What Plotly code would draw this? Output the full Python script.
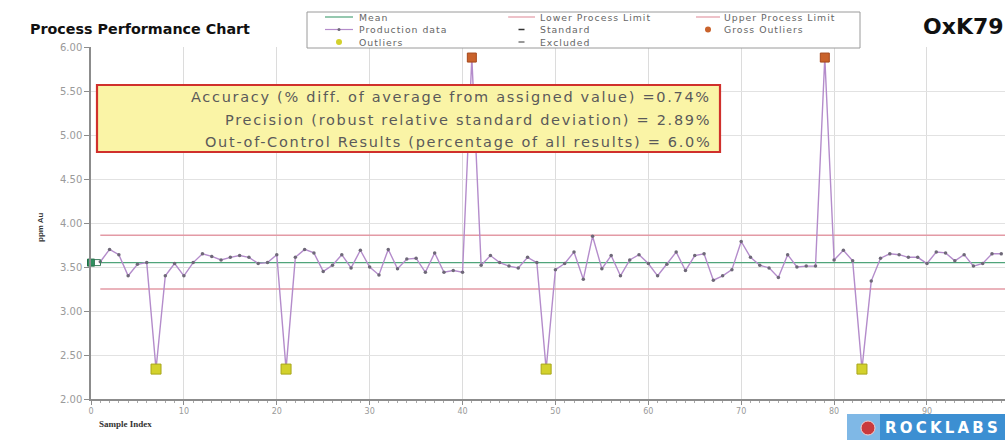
import plotly.graph_objects as go

# ---- data -------------------------------------------------------------
sample_index = list(range(1, 99))
production = [
    3.56, 3.70, 3.64, 3.40, 3.53, 3.55, 2.34, 3.40, 3.54, 3.40,
    3.55, 3.65, 3.62, 3.58, 3.61, 3.63, 3.61, 3.54, 3.55, 3.64,
    2.34, 3.61, 3.70, 3.66, 3.45, 3.52, 3.64, 3.49, 3.69, 3.50,
    3.41, 3.70, 3.48, 3.59, 3.60, 3.44, 3.66, 3.44, 3.46, 3.44,
    5.88, 3.52, 3.63, 3.55, 3.51, 3.49, 3.61, 3.55, 2.34, 3.47,
    3.54, 3.67, 3.36, 3.85, 3.48, 3.63, 3.40, 3.58, 3.64, 3.54,
    3.40, 3.53, 3.67, 3.46, 3.63, 3.65, 3.35, 3.40, 3.47, 3.79,
    3.61, 3.52, 3.49, 3.38, 3.64, 3.50, 3.51, 3.51, 5.88, 3.58,
    3.69, 3.57, 2.34, 3.34, 3.60, 3.65, 3.64, 3.61, 3.61, 3.54,
    3.67, 3.66, 3.57, 3.64, 3.51, 3.54, 3.65, 3.65,
]
outlier_idx = [7, 21, 49, 83]
gross_outlier_idx = [41, 79]
mean_value = 3.55
lower_limit = 3.25
upper_limit = 3.86
standard_value = 3.55
limit_span = [1, 100]

stats_lines = [
    "Accuracy (% diff. of average from assigned value) =0.74%",
    "Precision (robust relative standard deviation) = 2.89%",
    "Out-of-Control Results (percentage of all results) = 6.0%",
]

y_ticks = [2.0, 2.5, 3.0, 3.5, 4.0, 4.5, 5.0, 5.5, 6.0]
x_ticks = [0, 10, 20, 30, 40, 50, 60, 70, 80, 90]

# ---- page geometry (pixels) -------------------------------------------
FIG_W, FIG_H = 1005, 440
M_L, M_T, M_R, M_B = 91, 47, 0, 41
PW = FIG_W - M_L - M_R
PH = FIG_H - M_T - M_B


def px(x):
    return (x - M_L) / PW


def py(y):
    return (FIG_H - M_B - y) / PH


def spaced(text, spacing):
    return f'<span style="letter-spacing:{spacing}px">{text}</span>'


MEAN_C = "#4FA47A"
LIMIT_C = "#E39AA5"
PROD_C = "#B48CCB"
OUT_C = "#D3D12C"
GROSS_C = "#C9622B"
TEXT_C = "#5A5A5A"

fig = go.Figure()

fig.add_trace(go.Scatter(x=limit_span, y=[upper_limit] * 2, mode="lines",
                         line=dict(color=LIMIT_C, width=1.5), name="Upper Process Limit"))
fig.add_trace(go.Scatter(x=limit_span, y=[lower_limit] * 2, mode="lines",
                         line=dict(color=LIMIT_C, width=1.5), name="Lower Process Limit"))
fig.add_trace(go.Scatter(x=limit_span, y=[mean_value] * 2, mode="lines",
                         line=dict(color=MEAN_C, width=1.2), name="Mean"))

fig.add_trace(go.Scatter(
    x=sample_index, y=production, mode="lines+markers", name="Production data",
    line=dict(color=PROD_C, width=1.4),
    marker=dict(color="#6E6878", size=3.5),
))

fig.add_trace(go.Scatter(
    x=outlier_idx, y=[production[i - 1] for i in outlier_idx], mode="markers",
    name="Outliers",
    marker=dict(symbol="square", color=OUT_C, size=10,
                line=dict(color="#A8A61A", width=1)),
))
fig.add_trace(go.Scatter(
    x=gross_outlier_idx, y=[production[i - 1] for i in gross_outlier_idx],
    mode="markers", name="Gross Outliers",
    marker=dict(symbol="square", color=GROSS_C, size=9,
                line=dict(color="#A5481C", width=1)),
))

fig.add_trace(go.Scatter(
    x=[0], y=[standard_value], mode="markers", name="Standard",
    marker=dict(symbol="square", color="#2F8F5F", size=7,
                line=dict(color="#1E6B44", width=1)),
    cliponaxis=False,
))
fig.add_trace(go.Scatter(
    x=[0.7], y=[standard_value], mode="markers", showlegend=False,
    marker=dict(symbol="square-open", color="#3E7E5E", size=6,
                line=dict(width=1)),
    cliponaxis=False,
))

shapes = []
annotations = []

# statistics box
shapes.append(dict(type="rect", xref="paper", yref="paper",
                   x0=px(97), x1=px(720), y0=py(152), y1=py(85),
                   fillcolor="#FAF4A6", line=dict(color="#D0302C", width=2.2),
                   layer="above"))
for text, ypix in zip(stats_lines, [97, 120, 142]):
    annotations.append(dict(text=spaced(text, 1.7), xref="paper", yref="paper",
                            x=px(713), y=py(ypix), xanchor="right", yanchor="middle",
                            showarrow=False,
                            font=dict(family="DejaVu Sans", size=14.5, color=TEXT_C)))

# legend box
shapes.append(dict(type="rect", xref="paper", yref="paper",
                   x0=px(307), x1=px(860), y0=py(48), y1=py(12),
                   fillcolor="white", line=dict(color="#9A9A9A", width=1)))

legend_rows = [17, 29.5, 42]
legend_items = [
    # column 1
    ("line", MEAN_C, 325, 353, 357, legend_rows[0], "Mean"),
    ("linedot", PROD_C, 325, 353, 357, legend_rows[1], "Production data"),
    ("dot", OUT_C, 325, 353, 357, legend_rows[2], "Outliers"),
    # column 2
    ("line", LIMIT_C, 508, 535, 538, legend_rows[0], "Lower Process Limit"),
    ("dash", "#333333", 508, 535, 538, legend_rows[1], "Standard"),
    ("dash", "#777777", 508, 535, 538, legend_rows[2], "Excluded"),
    # column 3
    ("line", LIMIT_C, 696, 720, 722, legend_rows[0], "Upper Process Limit"),
    ("dot", GROSS_C, 696, 720, 722, legend_rows[1], "Gross Outliers"),
]
for kind, color, x0, x1, xt, yrow, label in legend_items:
    xm = (x0 + x1) / 2
    if kind in ("line", "linedot"):
        shapes.append(dict(type="line", xref="paper", yref="paper",
                           x0=px(x0), x1=px(x1), y0=py(yrow), y1=py(yrow),
                           line=dict(color=color, width=1.2)))
    if kind == "linedot":
        shapes.append(dict(type="circle", xref="paper", yref="paper",
                           x0=px(xm - 1.5), x1=px(xm + 1.5),
                           y0=py(yrow + 1.5), y1=py(yrow - 1.5),
                           fillcolor="#6E6878", line=dict(width=0)))
    if kind == "dot":
        shapes.append(dict(type="circle", xref="paper", yref="paper",
                           x0=px(xm - 3), x1=px(xm + 3),
                           y0=py(yrow + 3), y1=py(yrow - 3),
                           fillcolor=color, line=dict(width=0)))
    if kind == "dash":
        shapes.append(dict(type="line", xref="paper", yref="paper",
                           x0=px(xm - 3), x1=px(xm + 3), y0=py(yrow), y1=py(yrow),
                           line=dict(color=color, width=1.5)))
    annotations.append(dict(text=spaced(label, 1.0), xref="paper", yref="paper",
                            x=px(xt), y=py(yrow), xanchor="left", yanchor="middle",
                            showarrow=False,
                            font=dict(family="DejaVu Sans", size=9.3, color="#666666")))

# titles
annotations.append(dict(text="<b>Process Performance Chart</b>", xref="paper", yref="paper",
                        x=px(28), y=py(29), xanchor="left", yanchor="middle",
                        showarrow=False,
                        font=dict(family="DejaVu Sans", size=14.3, color="#111111")))
annotations.append(dict(text="<b>OxK79</b>", xref="paper", yref="paper",
                        x=px(921), y=py(27), xanchor="left", yanchor="middle",
                        showarrow=False,
                        font=dict(family="DejaVu Sans", size=22, color="#111111")))
annotations.append(dict(text="<b>ppm Au</b>", xref="paper", yref="paper",
                        x=px(40), y=py(227), xanchor="center", yanchor="middle",
                        textangle=-90, showarrow=False,
                        font=dict(family="Liberation Sans", size=8, color="#333333")))
annotations.append(dict(text="<b>Sample Index</b>", xref="paper", yref="paper",
                        x=px(97), y=py(424), xanchor="left", yanchor="middle",
                        showarrow=False,
                        font=dict(family="Liberation Serif", size=9, color="#333333")))

# brand strip
shapes.append(dict(type="rect", xref="paper", yref="paper",
                   x0=px(847), x1=px(1005), y0=py(440), y1=py(414),
                   fillcolor="#3C8FD2", line=dict(width=0)))
shapes.append(dict(type="rect", xref="paper", yref="paper",
                   x0=px(847), x1=px(880), y0=py(440), y1=py(414),
                   fillcolor="#7FB8E6", line=dict(width=0)))
shapes.append(dict(type="circle", xref="paper", yref="paper",
                   x0=px(861), x1=px(875), y0=py(435), y1=py(421),
                   fillcolor="#C93A3E", line=dict(color="#F2D0D0", width=1)))
annotations.append(dict(text=spaced("<b>ROCKLABS</b>", 3.2), xref="paper", yref="paper",
                        x=px(883), y=py(428), xanchor="left", yanchor="middle",
                        showarrow=False,
                        font=dict(family="DejaVu Sans", size=15, color="white")))

fig.update_layout(
    width=FIG_W, height=FIG_H,
    margin=dict(l=M_L, r=M_R, t=M_T, b=M_B),
    paper_bgcolor="white", plot_bgcolor="white",
    showlegend=False,
    shapes=shapes, annotations=annotations,
    font=dict(family="DejaVu Sans", color="#999999"),
)
fig.update_xaxes(
    range=[0, 98.4], tickvals=x_ticks, ticktext=[str(v) for v in x_ticks],
    showgrid=True, gridcolor="#DCDCDC", gridwidth=1,
    showline=True, linecolor="#8C8C8C", linewidth=1.5,
    ticks="outside", ticklen=4, tickcolor="#8C8C8C",
    minor=dict(dtick=1, ticks="outside", ticklen=2, tickcolor="#AAAAAA", showgrid=False),
    tickfont=dict(family="DejaVu Sans", size=8, color="#999999"),
    zeroline=False,
)
fig.update_yaxes(
    range=[2.0, 6.0], tickvals=y_ticks, ticktext=[f"{v:.2f}" for v in y_ticks],
    showgrid=True, gridcolor="#E2E2E2", gridwidth=1,
    showline=True, linecolor="#8C8C8C", linewidth=1.5,
    ticks="outside", ticklen=5, tickcolor="#8C8C8C",
    tickfont=dict(family="DejaVu Sans", size=10, color="#9A9A9A"),
    zeroline=False,
)

fig.write_html("out.html")
